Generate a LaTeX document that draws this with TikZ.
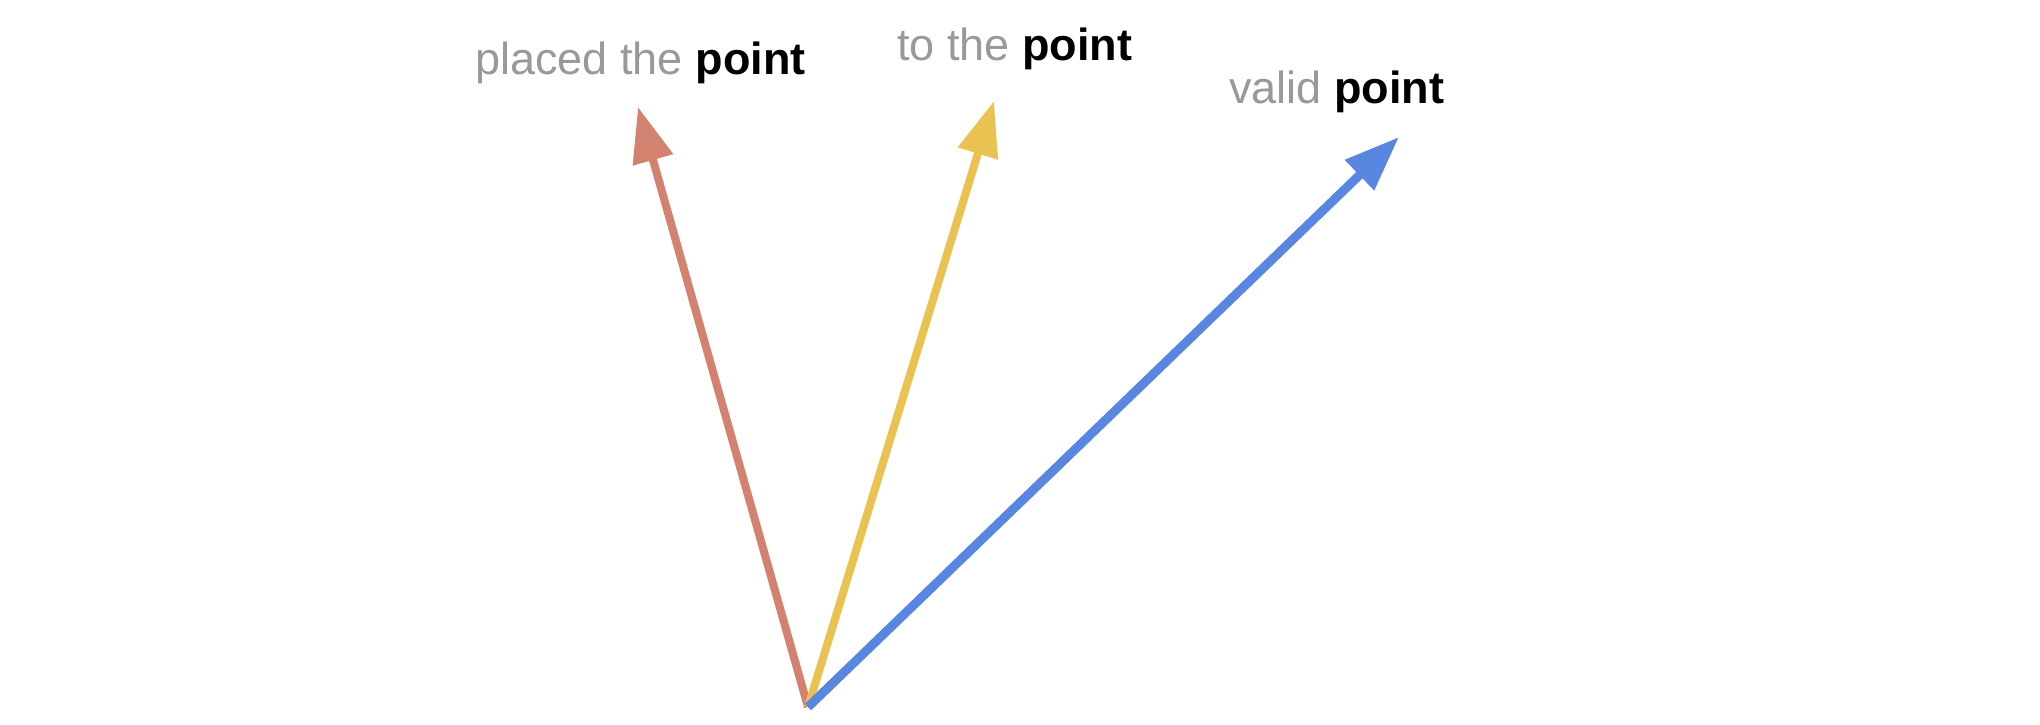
\documentclass[tikz,border=0pt]{standalone}
\usepackage{fontspec}
\setmainfont{Liberation Sans}
\usetikzlibrary{arrows.meta}
\definecolor{cred}{HTML}{D3826F}
\definecolor{cyel}{HTML}{E9C251}
\definecolor{cblue}{HTML}{5886E0}
\definecolor{cgrey}{HTML}{999999}
\tikzset{
  vec/.style={line width=4pt, -{Triangle[length=27.5pt,width=20pt]}},
  lbl/.style={anchor=base west, inner sep=0pt, font=\fontsize{22.5pt}{27pt}\selectfont, text=cgrey},
}
\begin{document}
\begin{tikzpicture}[x=0.5pt,y=-0.5pt]
\useasboundingbox (0,0) rectangle (2040,724);
\coordinate (o) at (808,707);
\coordinate (tr) at (638,107);
\coordinate (ty) at (994,101);
\coordinate (tb) at (1399,137);
\draw[vec, cred] (o) -- (tr);
\draw[vec, cyel] (o) -- (ty);
\draw[vec, cblue, line width=4.5pt] (o) -- (tb);
\node[lbl] (l1) at (475,74) {placed the \textcolor{black}{\bfseries point}};
\node[lbl] (l2) at (897,60) {to the \textcolor{black}{\bfseries point}};
\node[lbl] (l3) at (1229,103) {valid \textcolor{black}{\bfseries point}};
\end{tikzpicture}
\end{document}
